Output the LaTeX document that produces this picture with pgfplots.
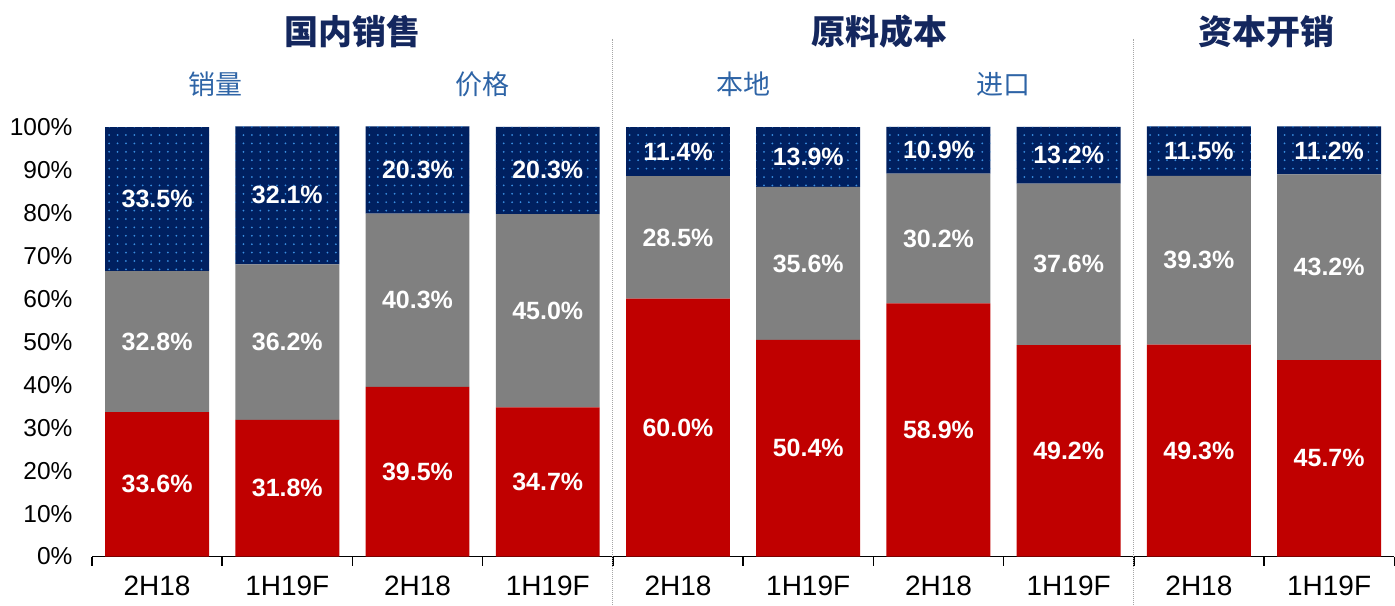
\documentclass[border=0pt]{standalone}
\usepackage{pgfplots}
\pgfplotsset{compat=1.18}
\usepackage{pgfplotstable}
\usepackage{fontspec}
\usetikzlibrary{patterns.meta}
\setmainfont{Liberation Sans}
\newfontfamily\cjk{Noto Sans CJK SC}

\definecolor{cred}{HTML}{C00000}
\definecolor{cgray}{HTML}{808080}
\definecolor{cnavy}{HTML}{002060}
\definecolor{cdot}{HTML}{3A8EE0}
\definecolor{ctitle}{HTML}{14275E}
\definecolor{csub}{HTML}{2E64A6}

% red = bottom, gray = middle, navy = top (shares, %)
\pgfplotstableread{
x r    g    b
0 33.6 32.8 33.5
1 31.8 36.2 32.1
2 39.5 40.3 20.3
3 34.7 45.0 20.3
4 60.0 28.5 11.4
5 50.4 35.6 13.9
6 58.9 30.2 10.9
7 49.2 37.6 13.2
8 49.3 39.3 11.5
9 45.7 43.2 11.2
}\data

\begin{document}
\begin{tikzpicture}
\begin{axis}[
  x=130.3pt, y=4.3pt,
  xmin=-0.5, xmax=9.5, ymin=0, ymax=100,
  clip=false,
  ybar stacked, bar width=104pt,
  axis x line=bottom, axis y line=left,
  axis line style={-, black, line width=1pt},
  y axis line style={draw=none},
  xtick={0,...,9},
  xticklabels={2H18,1H19F,2H18,1H19F,2H18,1H19F,2H18,1H19F,2H18,1H19F},
  minor xtick={-0.5,0.5,...,9.5},
  xtick align=outside,
  major tick length=0pt,
  minor tick length=9pt,
  minor x tick style={black, line width=1.5pt},
  ytick={0,10,...,100},
  yticklabels={0\%,10\%,20\%,30\%,40\%,50\%,60\%,70\%,80\%,90\%,100\%},
  ytick style={draw=none},
  yticklabel style={font=\fontsize{24.5}{29}\selectfont, xshift=-16pt},
  xticklabel style={font=\fontsize{28}{32}\selectfont, yshift=-16pt},
  point meta=explicit symbolic,
  nodes near coords={\pgfplotspointmeta\%},
  every node near coord/.append style={font=\bfseries\fontsize{25}{30}\selectfont,
    text=white, anchor=center},
]
\addplot[fill=cred, draw=none] table[x=x, y=r, meta=r] {\data};
\addplot[fill=cgray, draw=none] table[x=x, y=g, meta=g] {\data};
\addplot[fill=cnavy, draw=none,
  postaction={pattern={Dots[distance=8.4pt, radius=1pt]}, pattern color=cdot}]
  table[x=x, y=b, meta=b] {\data};

% group separators
\draw[black!35, densely dotted, line width=1pt] (axis cs:3.5,-11.2) -- (axis cs:3.5,120.5);
\draw[black!35, densely dotted, line width=1pt] (axis cs:7.5,-11.2) -- (axis cs:7.5,120.5);

% headers
\node[font=\cjk\bfseries\fontsize{34}{40}\selectfont, text=ctitle] at (axis cs:1.5,122.1) {国内销售};
\node[font=\cjk\bfseries\fontsize{34}{40}\selectfont, text=ctitle] at (axis cs:5.55,122.1) {原料成本};
\node[font=\cjk\bfseries\fontsize{34}{40}\selectfont, text=ctitle] at (axis cs:8.52,122.1) {资本开销};
\node[font=\cjk\fontsize{27}{32}\selectfont, text=csub] at (axis cs:0.45,109.8) {销量};
\node[font=\cjk\fontsize{27}{32}\selectfont, text=csub] at (axis cs:2.5,109.8) {价格};
\node[font=\cjk\fontsize{27}{32}\selectfont, text=csub] at (axis cs:4.5,109.8) {本地};
\node[font=\cjk\fontsize{27}{32}\selectfont, text=csub] at (axis cs:6.5,109.8) {进口};

% picture frame as in the reference
\path (axis cs:-1.206,-11.16) rectangle (axis cs:9.5,129.5);
\end{axis}
\end{tikzpicture}
\end{document}
